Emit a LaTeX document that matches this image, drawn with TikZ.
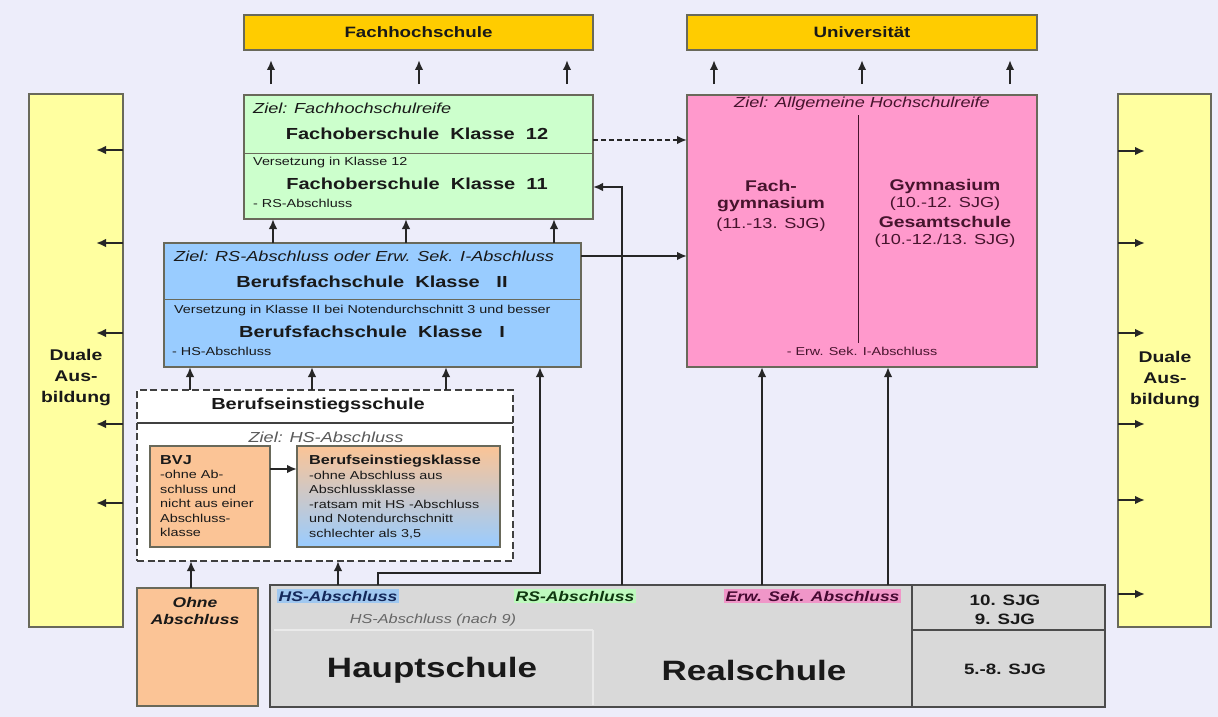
\documentclass[tikz,border=0pt]{standalone}
\usepackage{fontspec}
\setmainfont[FakeStretch=1.25]{Liberation Sans}
\usetikzlibrary{arrows.meta}
\definecolor{bgc}{RGB}{237,237,250}
\definecolor{gold}{RGB}{255,204,0}
\definecolor{paley}{RGB}{255,255,160}
\definecolor{paleg}{RGB}{204,255,204}
\definecolor{paleb}{RGB}{153,204,255}
\definecolor{pinkc}{RGB}{255,153,204}
\definecolor{orangec}{RGB}{251,196,150}
\definecolor{grayc}{RGB}{217,217,217}
\definecolor{edge}{RGB}{105,105,90}
\definecolor{txt}{RGB}{25,25,25}
\definecolor{pinktxt}{RGB}{70,20,45}
\definecolor{hlb}{RGB}{160,200,240}
\definecolor{hlg}{RGB}{190,250,190}
\definecolor{hlp}{RGB}{240,150,200}
\definecolor{hsblue}{RGB}{20,40,90}
\definecolor{rsgreen}{RGB}{15,55,15}
\definecolor{erwpurp}{RGB}{70,10,50}
\begin{document}
\begin{tikzpicture}[x=1pt,y=-1pt,
 box/.style={draw=edge, line width=1.1pt, inner sep=0pt, outer sep=0pt, anchor=north west},
 arr/.style={-{Latex[length=10pt,width=8.5pt]}, line width=2.2pt, draw=black!85},
 t/.style={inner sep=0pt, text=txt},
 bigb/.style={t, font=\bfseries\fontsize{16}{18}\selectfont},
 headb/.style={t, font=\bfseries\fontsize{15}{17}\selectfont},
 zi/.style={t, font=\itshape\fontsize{14.5}{17}\selectfont},
 sm/.style={t, font=\fontsize{11.5}{13}\selectfont},
 pb/.style={t, text=pinktxt, font=\bfseries\fontsize{15.5}{17}\selectfont},
 pn/.style={t, text=pinktxt, font=\fontsize{14.5}{17}\selectfont},
 hl/.style={inner sep=1.5pt, anchor=west, font=\bfseries\itshape\fontsize{14}{16}\selectfont},
 sjg/.style={t, font=\bfseries\fontsize{15}{17}\selectfont},
 huge/.style={t, font=\bfseries\fontsize{28}{30}\selectfont},
 dual/.style={t, align=center, font=\bfseries\fontsize{15.5}{21}\selectfont}
]
\fill[bgc] (0,0) rectangle (1218,717);
\useasboundingbox (0,0) rectangle (1218,717);

% top boxes
\node[box, fill=gold, minimum width=349pt, minimum height=35pt] (fhs) at (244,15) {};
\node[headb] (fhsT) at (fhs.center) {Fachhochschule};
\node[box, fill=gold, minimum width=350pt, minimum height=35pt] (uni) at (687,15) {};
\node[headb] (uniT) at (uni.center) {Universität};

% Duale Ausbildung
\node[box, fill=paley, minimum width=94pt, minimum height=533pt] (dl) at (29,94) {};
\node[dual] (dlT) at (76,378) {Duale\\Aus-\\bildung};
\node[box, fill=paley, minimum width=93pt, minimum height=533pt] (dr) at (1118,94) {};
\node[dual] (drT) at (1165,380) {Duale\\Aus-\\bildung};

% Fachoberschule
\node[box, fill=paleg, minimum width=349pt, minimum height=124pt] (fos) at (244,95) {};
\draw[edge, line width=1pt] (fos.west |- 0,153) -- (fos.east |- 0,153);
\node[zi, anchor=west] (fosZ) at (253,108) {Ziel: Fachhochschulreife};
\node[bigb] (fos12) at (417,134) {Fachoberschule\ \ Klasse\ \ 12};
\node[sm, anchor=west] (fosV) at (253,163) {Versetzung in Klasse 12};
\node[bigb] (fos11) at (417,184) {Fachoberschule\ \ Klasse\ \ 11};
\node[sm, anchor=west] (fosR) at (253,203) {- RS-Abschluss};

% Pink box
\node[box, fill=pinkc, minimum width=350pt, minimum height=272pt] (pink) at (687,95) {};
\draw[pinktxt, line width=0.9pt] (858,115) -- (858,343);
\node[zi, text=pinktxt] (pZ) at (862,104) {Ziel: Allgemeine Hochschulreife};
\node[pb] (fg1) at (771,186) {Fach-};
\node[pb] (fg2) at (771,205) {gymnasium};
\node[pn] (fg3) at (771,225) {(11.-13. SJG)};
\node[pb] (gy1) at (945,186) {Gymnasium};
\node[pn] (gy2) at (945,204) {(10.-12. SJG)};
\node[pb] (gy3) at (945,222) {Gesamtschule};
\node[pn] (gy4) at (945,241) {(10.-12./13. SJG)};
\node[sm, text=pinktxt] (pE) at (862,351) {- Erw. Sek. I-Abschluss};

% Berufsfachschule
\node[box, fill=paleb, minimum width=417pt, minimum height=124pt] (bfs) at (164,243) {};
\draw[edge, line width=1pt] (bfs.west |- 0,299) -- (bfs.east |- 0,299);
\node[zi, anchor=west] (bfsZ) at (174,256) {Ziel: RS-Abschluss oder Erw. Sek. I-Abschluss};
\node[bigb] (bfs2) at (372,282) {Berufsfachschule\ \ Klasse\ \ \ II};
\node[sm, anchor=west] (bfsV) at (174,311) {Versetzung in Klasse II bei Notendurchschnitt 3 und besser};
\node[bigb] (bfs1) at (372,332) {Berufsfachschule\ \ Klasse\ \ \ I};
\node[sm, anchor=west] (bfsH) at (172,351) {- HS-Abschluss};

% Berufseinstiegsschule
\node[box, fill=white, draw=black!75, line width=1.5pt, dash pattern=on 7pt off 3.5pt, minimum width=376pt, minimum height=171pt] (bes) at (137,390) {};
\draw[black!75, line width=1.5pt] (bes.west |- 0,423) -- (bes.east |- 0,423);
\node[t, font=\bfseries\fontsize{16}{18}\selectfont] (besT) at (318,405) {Berufseinstiegsschule};
\node[zi, text=black!65] (besZ) at (326,437) {Ziel: HS-Abschluss};
\node[box, fill=orangec, minimum width=120pt, minimum height=101pt] (bvj) at (150,446) {};
\node[t, anchor=north west, align=left, font=\fontsize{11.5}{14.5}\selectfont] (bvjT) at (160,455) {{\bfseries\fontsize{13}{14.5}\selectfont BVJ}\\-ohne Ab-\\schluss und\\nicht aus einer\\Abschluss-\\klasse};
\node[box, top color=orangec, bottom color=paleb, minimum width=203pt, minimum height=101pt] (bk) at (297,446) {};
\node[t, anchor=north west, align=left, font=\fontsize{11.5}{14.5}\selectfont] (bkT) at (309,455) {{\bfseries\fontsize{13}{14.5}\selectfont Berufseinstiegsklasse}\\-ohne Abschluss aus\\Abschlussklasse\\-ratsam mit HS -Abschluss\\und Notendurchschnitt\\schlechter als 3,5};

% Ohne Abschluss
\node[box, fill=orangec, minimum width=121pt, minimum height=118pt] (ohne) at (137,588) {};
\node[t, align=center, font=\bfseries\itshape\fontsize{14}{17.5}\selectfont] (ohneT) at (195,611) {Ohne\\Abschluss};

% main bottom box
\node[box, fill=grayc, draw=black!70, line width=1.6pt, minimum width=835pt, minimum height=122pt] (main) at (270,585) {};
\draw[white!45!grayc, line width=1.2pt] (274,630) -- (593,630) (593,630) -- (593,705);
\draw[black!70, line width=1.5pt] (912,586) -- (912,706) (912,630) -- (1104,630);
\node[hl, fill=hlb, text=hsblue] (hsL) at (277,596) {HS-Abschluss};
\node[hl, fill=hlg, text=rsgreen] (rsL) at (514,596) {RS-Abschluss};
\node[hl, fill=hlp, text=erwpurp] (erwL) at (724,596) {Erw. Sek. Abschluss};
\node[t, font=\itshape\fontsize{13}{15}\selectfont, text=black!60] (hs9) at (433,620) {HS-Abschluss (nach 9)};
\node[huge] (haupt) at (432,670) {Hauptschule};
\node[huge] (real) at (754,670) {Realschule};
\node[sjg] (s10) at (1005,600) {10. SJG};
\node[sjg] (s9) at (1005,619) {9. SJG};
\node[sjg] (s58) at (1005,669) {5.-8. SJG};

% arrows to Fachhochschule / Universitaet
\foreach \xx in {271,419,567}
  \draw[arr, shorten <=11pt, shorten >=10pt] (fos.north -| \xx,0) -- (fhs.south -| \xx,0);
\foreach \xx in {714,862,1010}
  \draw[arr, shorten <=11pt, shorten >=10pt] (pink.north -| \xx,0) -- (uni.south -| \xx,0);

% BFS -> FOS
\foreach \xx in {273,406,554}
  \draw[arr] (bfs.north -| \xx,0) -- (fos.south -| \xx,0);
% BES -> BFS
\foreach \xx in {190,312,446}
  \draw[arr] (bes.north -| \xx,0) -- (bfs.south -| \xx,0);
% Hauptschule -> BFS
\draw[arr] (main.north -| 378,0) -- ++(0,-12) -| (bfs.south -| 540,0);
% Realschule -> FOS 11
\draw[arr] (main.north -| 622,0) |- (fos.east |- 0,187);
% into BES
\draw[arr] (ohne.north -| 191,0) -- (bes.south -| 191,0);
\draw[arr] (main.north -| 338,0) -- (bes.south -| 338,0);
% into pink
\foreach \xx in {762,888}
  \draw[arr] (main.north -| \xx,0) -- (pink.south -| \xx,0);
% horizontal links
\draw[arr, dash pattern=on 5pt off 3pt] (fos.east |- 0,140) -- (pink.west |- 0,140);
\draw[arr] (bfs.east |- 0,256) -- (pink.west |- 0,256);
\draw[arr] (bvj.east |- 0,469) -- (bk.west |- 0,469);

% Duale arrows
\foreach \yy in {150,243,333,424,503}
  \draw[arr] (dl.east |- 0,\yy) -- ++(-27,0);
\foreach \yy in {151,243,333,424,500,594}
  \draw[arr] (dr.west |- 0,\yy) -- ++(27,0);
\end{tikzpicture}
\end{document}
